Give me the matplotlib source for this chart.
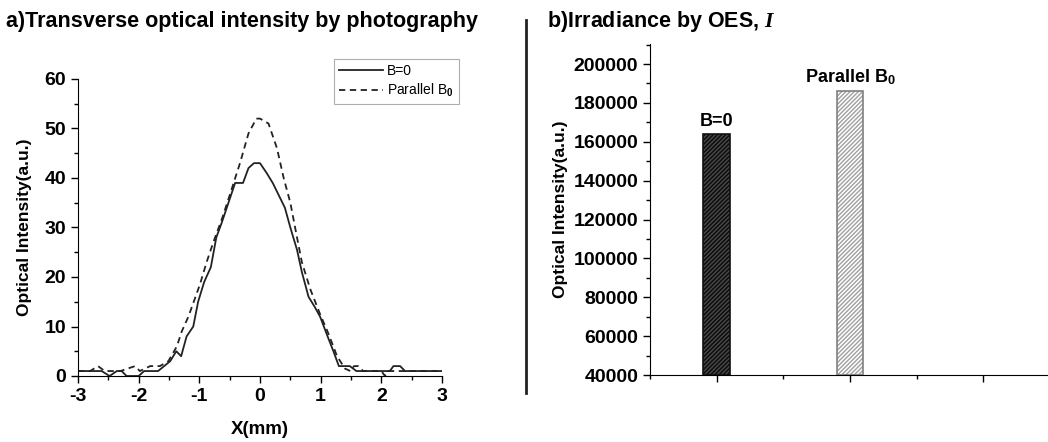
import matplotlib
matplotlib.use("Agg")
import matplotlib.pyplot as plt
from matplotlib.ticker import MultipleLocator
from matplotlib.lines import Line2D

plt.rcParams['font.family'] = ['Liberation Sans', 'DejaVu Sans']
plt.rcParams['font.weight'] = 'bold'
plt.rcParams['axes.labelweight'] = 'bold'
plt.rcParams['axes.unicode_minus'] = False
plt.rcParams['mathtext.fontset'] = 'custom'
plt.rcParams['mathtext.rm'] = 'Liberation Sans:bold'
plt.rcParams['mathtext.bf'] = 'Liberation Sans:bold'
plt.rcParams['mathtext.it'] = 'Liberation Serif:italic:bold'

# --- panel a: transverse profile ---
x_b0 = [-3.0, -2.70, -2.61, -2.48, -2.36, -2.28, -2.20, -2.00, -1.91, -1.68,
        -1.58, -1.48, -1.38, -1.30, -1.21, -1.10, -1.02, -0.92, -0.81, -0.72,
        -0.63, -0.52, -0.41, -0.28, -0.19, -0.10, 0.0, 0.11, 0.21, 0.33,
        0.41, 0.50, 0.61, 0.69, 0.80, 0.90, 0.99, 1.13, 1.21, 1.30,
        1.48, 1.59, 2.14, 2.20, 2.31, 2.39, 3.0]
y_b0 = [1, 1, 1, 0, 1, 1, 0, 0, 1, 1,
        2, 3, 5, 4, 8, 10, 15, 19, 22, 28,
        31, 35, 39, 39, 42, 43, 43, 41, 39, 36,
        34, 30, 25.5, 21, 16, 14, 12, 7.5, 5, 2,
        2, 1, 1, 2, 2, 1, 1]

x_par = [-3.0, -2.80, -2.67, -2.56, -2.30, -2.06, -1.98, -1.81, -1.65, -1.51,
         -1.37, -1.29, -1.18, -0.99, -0.88, -0.77, -0.62, -0.50, -0.33, -0.19,
         -0.06, 0.0, 0.14, 0.28, 0.39, 0.50, 0.61, 0.69, 0.83, 0.99,
         1.13, 1.27, 1.40, 1.49, 1.55, 1.62, 1.70, 2.00, 2.06, 2.10, 3.0]
y_par = [1, 1, 2, 1, 1, 2, 1, 2, 2, 3,
         6, 9, 12, 18.5, 23, 27, 32, 36.5, 43, 49,
         52, 52, 51, 46, 40, 35, 28, 23, 17.5, 12.5,
         8.5, 4, 1.5, 1, 2, 2, 1, 1, 0, 1, 1]

# --- panel b: irradiance by OES ---
bar_labels = ['B=0', 'Parallel B$_0$']
bar_pos = [1, 2]
bar_vals = [164000, 186000]

fig = plt.figure(figsize=(10.48, 4.42), dpi=100)

# ---------------- panel a ----------------
ax1 = fig.add_axes([78 / 1048, 1 - 376 / 442, 364 / 1048, 297 / 442])
ax1.plot(x_b0, y_b0, '-', color='#222222', lw=1.3, label='B=0')
ax1.plot(x_par, y_par, '--', color='#222222', lw=1.3, dashes=(3.5, 2.5),
         label='Parallel B$_0$')
ax1.set_xlim(-3, 3)
ax1.set_ylim(0, 60)
ax1.xaxis.set_major_locator(MultipleLocator(1))
ax1.xaxis.set_minor_locator(MultipleLocator(0.5))
ax1.yaxis.set_major_locator(MultipleLocator(10))
ax1.yaxis.set_minor_locator(MultipleLocator(5))
for s in ['top', 'right']:
    ax1.spines[s].set_visible(False)
ax1.tick_params(which='major', length=5, width=1, labelsize=14)
ax1.tick_params(which='minor', length=3, width=1)
ax1.set_xlabel('X(mm)', fontsize=13.5, labelpad=12)
ax1.set_ylabel('Optical Intensity(a.u.)', fontsize=12.5, labelpad=9)
leg = ax1.legend(loc='upper right', bbox_to_anchor=(1.065, 1.09),
                 frameon=True, fancybox=False, edgecolor='#999999',
                 handlelength=3.2, handletextpad=0.3, borderpad=0.35,
                 labelspacing=0.25, prop={'weight': 'normal', 'size': 10})
leg.get_frame().set_linewidth(0.8)

# ---------------- panel b ----------------
ax2 = fig.add_axes([650 / 1048, 1 - 375 / 442, 400 / 1048, 331 / 442])
face = ['#0d0d0d', 'white']
hatchc = ['#4a4a4a', '#a0a0a0']
outline = ['#111111', '#808080']
for p, v, fc, hc, oc in zip(bar_pos, bar_vals, face, hatchc, outline):
    ax2.bar(p, v - 40000, bottom=40000, width=0.2, color=fc, edgecolor=hc,
            hatch='////////', linewidth=0)
    ax2.bar(p, v - 40000, bottom=40000, width=0.2, fill=False, edgecolor=oc,
            linewidth=1.2)
for p, v, lab in zip(bar_pos, bar_vals, bar_labels):
    ax2.annotate(lab, (p, v), xytext=(0, 3), textcoords='offset points',
                 ha='center', va='bottom', fontsize=13)
ax2.set_xlim(0.5, 3.5)
ax2.set_ylim(40000, 210300)
ax2.xaxis.set_major_locator(MultipleLocator(1))
ax2.xaxis.set_minor_locator(MultipleLocator(0.5))
ax2.yaxis.set_major_locator(MultipleLocator(20000))
ax2.yaxis.set_minor_locator(MultipleLocator(10000))
for s in ['top', 'right']:
    ax2.spines[s].set_visible(False)
ax2.tick_params(which='major', length=5, width=1, labelsize=14)
ax2.tick_params(which='minor', length=3, width=1)
ax2.tick_params(axis='x', labelbottom=False)
ax2.set_ylabel('Optical Intensity(a.u.)', fontsize=12.5, labelpad=4)

# titles and separator
fig.text(6 / 1048, 1 - 27 / 442, 'a)Transverse optical intensity by photography',
         fontsize=15.5, ha='left', va='baseline')
fig.text(547 / 1048, 1 - 27 / 442, 'b)Irradiance by OES, $I$',
         fontsize=15.5, ha='left', va='baseline')
fig.add_artist(Line2D([526 / 1048, 526 / 1048], [1 - 20 / 442, 1 - 393 / 442],
                      transform=fig.transFigure, color='#222222', lw=2))

fig.savefig('out.png', dpi=100)
